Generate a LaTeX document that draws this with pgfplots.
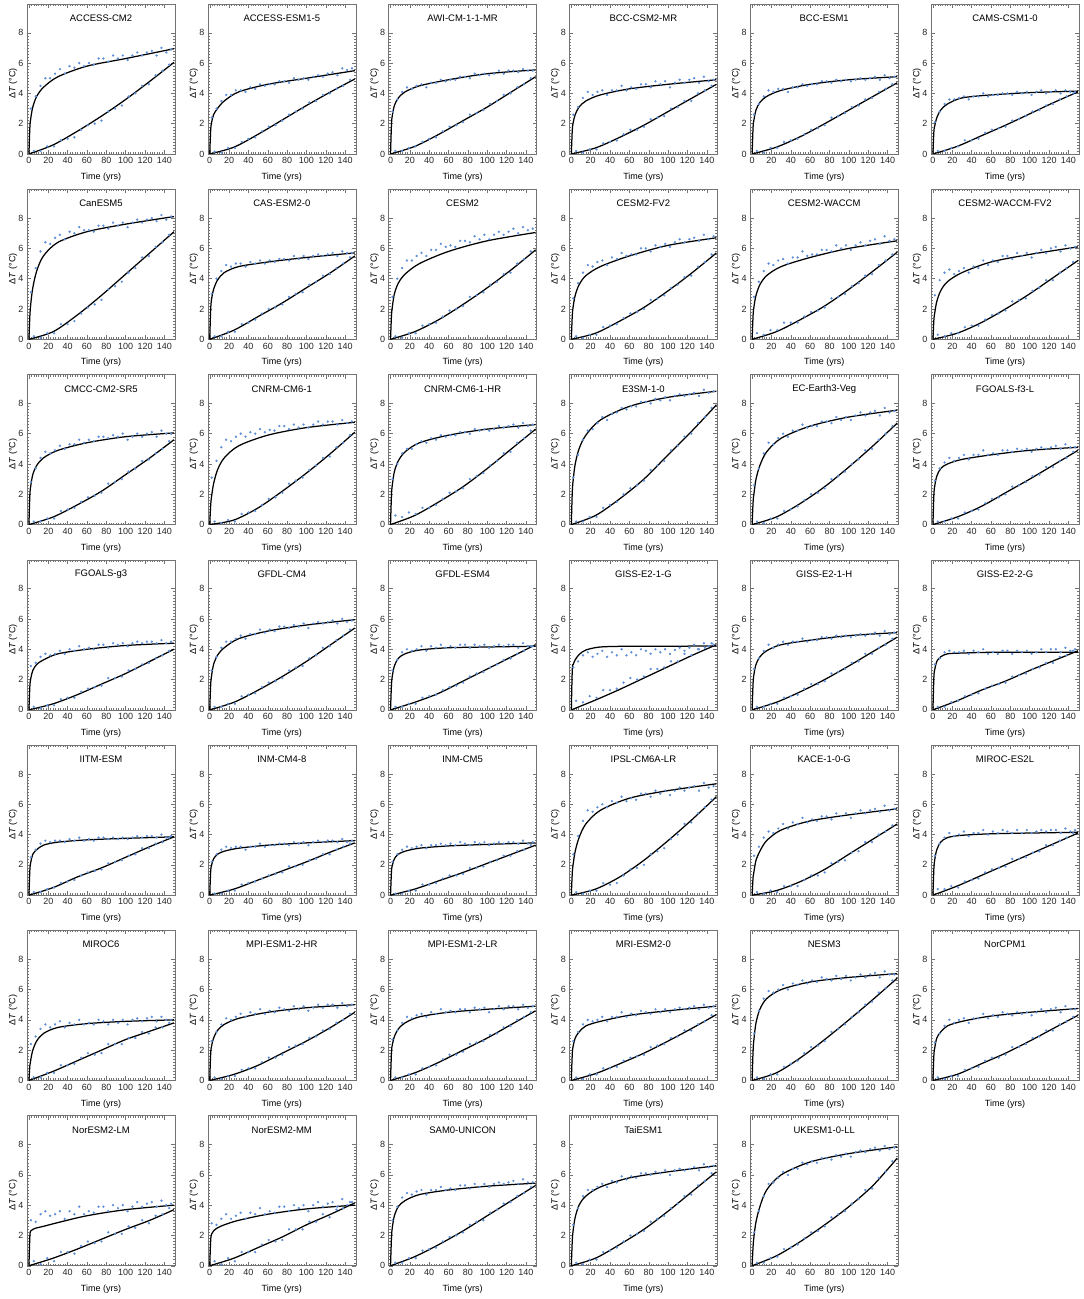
\documentclass[border=0pt]{standalone}
\usepackage{fontspec}
\setmainfont{Liberation Sans}
\usepackage{pgfplots}
\pgfplotsset{compat=1.18}
\usepgfplotslibrary{groupplots}
\definecolor{dotblue}{RGB}{92,142,215}
\pgfplotsset{
  scat/.style={only marks, mark=*, mark size=0.95pt, color=dotblue, mark options={draw=none, fill=dotblue}},
  fitc/.style={black, line width=1.25pt, smooth, tension=0.5, no marks},
}
\def\Ab#1,#2,#3,#4,#5,#6,#7,#8,#9;{\addplot[fitc] coordinates {(0,0)(1,#1)(2,#2)(4,#3)(8,#4)(15,#5)(30,#6)(60,#7)(100,#8)(150,#9)};}
\def\Pc#1,#2,#3,#4,#5,#6;{\addplot[fitc] coordinates {(0,0)(25,#1)(50,#2)(75,#3)(100,#4)(125,#5)(150,#6)};}
\newcommand\scat[3]{%
  \gdef\pts{}%
  \foreach \v [count=\i from 0] in {#3} {%
    \pgfmathsetmacro\xx{#1+#2*\i}%
    \xdef\pts{\pts(\xx,\v)}%
  }%
  \edef\tmp{\noexpand\addplot[scat] coordinates {\pts};}\tmp
}
\newcommand\Sa[1]{\scat{2}{5}{#1}}
\newcommand\Sp[1]{\scat{5}{7}{#1}}
\newcommand\fs{\fontsize{9}{11}\selectfont}
\newcommand\ft{\fontsize{9.5}{11}\selectfont}
\begin{document}
\begin{tikzpicture}
\begin{groupplot}[
  group style={group size=6 by 7, horizontal sep=32.8pt, vertical sep=35.3pt},
  scale only axis, width=148pt, height=150pt,
  xmin=-2, xmax=151, ymin=0, ymax=9.9,
  xtick={0,20,...,140}, ytick={0,2,4,6,8},
  minor x tick num=7, minor y tick num=9,
  tick align=inside,
  major tick length=4pt, minor tick length=2pt,
  tick style={black!55, line width=0.4pt},
  axis line style={black!55, line width=0.6pt},
  tick label style={font=\fs, text=black!85},
  /pgf/number format/assume math mode=true,
  title style={at={(0.5,0.905)}, anchor=center, yshift=-6pt, font=\ft},
  xlabel={Time (yrs)}, ylabel={Δ\textit{T} (°C)},
  xlabel style={at={(0.5,-0.155)}, anchor=center, font=\fs},
  ylabel style={at={(-0.095,0.47)}, anchor=center, font=\fs},
]
\nextgroupplot[title={ACCESS-CM2}]
\Sa{3.0,3.8,4.5,5.0,5.0,5.3,5.6,5.3,5.8,5.7,6.0,5.8,6.0,5.9,6.3,6.3,6.1,6.5,6.3,6.5,6.2,6.5,6.7,6.5,6.7,6.8,6.5,7.0,6.7,6.9}
\Sp{0.2,0.2,0.5,0.5,0.9,1.0,1.1,1.6,1.9,2.0,2.2,2.8,3.0,3.2,3.8,4.0,4.5,4.6,5.2,5.5,5.9}
\Ab 1.8,2.4,3.1,3.8,4.4,5.1,5.8,6.3,6.95;
\Pc 0.6,1.5,2.5,3.6,4.8,6.05;
\nextgroupplot[title={ACCESS-ESM1-5}]
\Sa{2.4,3.0,3.5,3.9,3.9,4.2,4.2,4.1,4.4,4.3,4.6,4.5,4.6,4.6,4.8,4.8,4.7,5.0,4.9,5.0,4.9,5.1,5.2,5.1,5.3,5.4,5.2,5.65,5.55,5.65}
\Sp{0.15,0.1,0.4,0.4,0.8,1.0,1.1,1.5,1.8,1.9,2.2,2.6,2.8,3.0,3.4,3.5,3.9,4.0,4.3,4.5,4.9}
\Ab 1.6,2.1,2.6,3.0,3.5,4.1,4.6,5.0,5.5;
\Pc 0.45,1.3,2.25,3.2,4.1,4.95;
\nextgroupplot[title={AWI-CM-1-1-MR}]
\Sa{2.8,3.6,4.1,4.4,4.3,4.5,4.6,4.4,4.7,4.7,4.9,4.8,4.9,4.9,5.1,5.1,5.0,5.3,5.2,5.3,5.2,5.3,5.5,5.3,5.5,5.5,5.4,5.6,5.5,5.5}
\Sp{0.2,0.2,0.4,0.5,0.8,1.0,1.1,1.5,1.8,1.9,2.1,2.6,2.7,2.9,3.3,3.5,3.9,4.0,4.4,4.6,5.0}
\Ab 2.0,2.6,3.2,3.7,4.1,4.5,4.9,5.3,5.55;
\Pc 0.5,1.3,2.2,3.1,4.1,5.1;
\nextgroupplot[title={BCC-CSM2-MR}]
\Sa{2.6,3.1,3.7,4.1,3.9,4.1,4.2,3.9,4.2,4.2,4.5,4.2,4.4,4.3,4.6,4.6,4.4,4.8,4.6,4.8,4.4,4.7,4.9,4.7,4.9,5.0,4.7,5.1,4.8,4.9}
\Sp{0.2,0.1,0.3,0.3,0.7,0.8,0.9,1.3,1.6,1.6,1.8,2.3,2.4,2.5,3.0,3.1,3.5,3.5,4.0,4.2,4.5}
\Ab 1.6,2.1,2.6,3.1,3.5,3.9,4.3,4.6,4.9;
\Pc 0.4,1.1,1.9,2.8,3.7,4.6;
\nextgroupplot[title={BCC-ESM1}]
\Sa{2.6,3.3,3.8,4.2,4.1,4.3,4.3,4.1,4.4,4.4,4.6,4.5,4.6,4.6,4.8,4.8,4.7,4.9,4.8,4.9,4.8,4.9,5.0,4.9,5.0,5.1,4.9,5.2,5.0,5.1}
\Sp{0.2,0.1,0.4,0.4,0.8,0.9,1.0,1.3,1.6,1.7,1.9,2.4,2.5,2.7,3.1,3.2,3.6,3.7,4.1,4.3,4.6}
\Ab 1.8,2.3,2.9,3.4,3.8,4.2,4.6,4.9,5.1;
\Pc 0.45,1.15,2.0,2.9,3.8,4.7;
\nextgroupplot[title={CAMS-CSM1-0}]
\Sa{2.1,2.8,3.3,3.6,3.6,3.7,3.8,3.6,3.8,3.8,4.0,3.8,3.9,3.9,4.0,4.0,3.9,4.1,4.0,4.1,3.9,4.1,4.2,4.0,4.1,4.2,4.0,4.2,4.1,4.1}
\Sp{0.2,0.2,0.4,0.5,0.9,0.9,1.0,1.4,1.6,1.7,1.8,2.2,2.3,2.5,2.8,2.9,3.2,3.3,3.6,3.8,4.0}
\Ab 1.5,1.9,2.4,2.9,3.3,3.7,3.9,4.05,4.15;
\Pc 0.5,1.2,1.9,2.65,3.4,4.1;
\nextgroupplot[title={CanESM5}]
\Sa{3.1,4.7,5.8,6.4,6.3,6.7,6.9,6.6,7.1,7.0,7.4,7.2,7.2,7.1,7.5,7.5,7.3,7.7,7.5,7.7,7.4,7.7,7.9,7.7,7.9,8.0,7.8,8.2,7.9,8.1}
\Sp{0.2,0.1,0.4,0.4,1.0,1.0,1.2,1.7,2.1,2.3,2.6,3.3,3.5,3.8,4.4,4.7,5.4,5.5,6.1,6.4,6.9}
\Ab 1.6,2.4,3.4,4.5,5.5,6.4,7.1,7.6,8.1;
\Pc 0.5,1.6,2.9,4.3,5.7,7.1;
\nextgroupplot[title={CAS-ESM2-0}]
\Sa{3.0,4.0,4.5,4.9,4.8,5.0,5.0,4.8,5.1,5.0,5.2,5.0,5.2,5.1,5.3,5.3,5.2,5.5,5.3,5.5,5.3,5.5,5.6,5.5,5.6,5.7,5.5,5.8,5.7,5.7}
\Sp{0.2,0.2,0.5,0.5,1.0,1.1,1.3,1.7,2.0,2.1,2.3,2.8,3.0,3.1,3.6,3.8,4.2,4.3,4.7,5.0,5.4}
\Ab 2.0,2.7,3.3,3.9,4.4,4.8,5.1,5.4,5.7;
\Pc 0.6,1.5,2.4,3.4,4.4,5.5;
\nextgroupplot[title={CESM2}]
\Sa{2.8,4.0,4.7,5.2,5.2,5.5,5.7,5.5,5.9,5.9,6.3,6.1,6.2,6.1,6.5,6.5,6.4,6.8,6.6,6.9,6.6,6.9,7.1,6.9,7.1,7.3,7.0,7.4,7.2,7.3}
\Sp{0.2,0.1,0.4,0.4,0.9,1.0,1.1,1.5,1.9,2.0,2.2,2.8,2.9,3.1,3.6,3.8,4.3,4.4,5.0,5.3,5.8}
\Ab 1.6,2.2,3.0,3.7,4.3,5.0,5.8,6.5,7.05;
\Pc 0.5,1.3,2.3,3.4,4.6,5.9;
\nextgroupplot[title={CESM2-FV2}]
\Sa{2.7,3.7,4.4,4.9,4.8,5.1,5.2,4.9,5.4,5.3,5.7,5.5,5.6,5.6,6.0,6.0,5.8,6.2,6.1,6.3,6.1,6.4,6.6,6.4,6.6,6.7,6.5,6.9,6.6,6.8}
\Sp{0.2,0.1,0.3,0.3,0.8,0.9,1.0,1.4,1.7,1.8,2.0,2.6,2.7,2.9,3.4,3.6,4.1,4.2,4.8,5.1,5.6}
\Ab 1.6,2.2,2.9,3.6,4.2,4.8,5.5,6.2,6.7;
\Pc 0.4,1.2,2.1,3.2,4.4,5.7;
\nextgroupplot[title={CESM2-WACCM}]
\Sa{2.8,3.8,4.5,5.0,4.9,5.2,5.3,5.0,5.4,5.4,5.8,5.5,5.6,5.6,5.9,5.9,5.8,6.2,6.0,6.2,5.9,6.2,6.4,6.2,6.5,6.6,6.3,6.8,6.5,6.6}
\Sp{0.4,0.3,0.6,0.6,1.1,1.1,1.1,1.5,1.8,1.9,2.1,2.7,2.8,3.0,3.5,3.7,4.2,4.3,4.9,5.2,5.6}
\Ab 1.6,2.2,2.9,3.6,4.2,4.8,5.4,6.0,6.5;
\Pc 0.5,1.3,2.2,3.3,4.5,5.75;
\nextgroupplot[title={CESM2-WACCM-FV2}]
\Sa{2.9,3.9,4.4,4.6,4.3,4.5,4.7,4.4,4.8,4.7,5.2,4.9,5.2,5.1,5.5,5.5,5.3,5.7,5.5,5.7,5.4,5.7,5.9,5.7,6.0,6.1,5.8,6.2,6.0,6.1}
\Sp{0.3,0.2,0.4,0.4,0.8,0.9,0.9,1.3,1.6,1.7,1.9,2.5,2.6,2.7,3.2,3.4,3.9,3.9,4.4,4.7,5.1}
\Ab 1.3,1.8,2.5,3.2,3.8,4.4,5.1,5.6,6.1;
\Pc 0.4,1.1,2.0,3.0,4.1,5.2;
\nextgroupplot[title={CMCC-CM2-SR5}]
\Sa{2.8,3.7,4.4,4.8,4.7,4.9,5.2,5.0,5.3,5.3,5.6,5.4,5.6,5.5,5.8,5.8,5.7,5.9,5.8,6.0,5.6,5.8,6.0,5.8,6.0,6.1,5.8,6.2,6.0,6.0}
\Sp{0.2,0.2,0.4,0.4,0.9,1.0,1.1,1.5,1.8,1.9,2.1,2.7,2.8,3.0,3.5,3.7,4.2,4.3,4.7,5.0,5.5}
\Ab 2.0,2.6,3.3,3.9,4.4,4.9,5.4,5.8,6.05;
\Pc 0.5,1.3,2.2,3.3,4.4,5.6;
\nextgroupplot[title={CNRM-CM6-1}]
\Sa{3.1,4.2,5.1,5.6,5.5,5.8,6.0,5.8,6.1,6.0,6.3,6.1,6.25,6.2,6.5,6.5,6.3,6.6,6.4,6.6,6.4,6.6,6.8,6.6,6.8,6.8,6.6,6.9,6.7,6.8}
\Sp{0.2,0.1,0.3,0.2,0.7,0.8,0.9,1.3,1.7,1.8,2.1,2.7,2.9,3.1,3.6,3.9,4.4,4.5,5.1,5.4,5.9}
\Ab 1.3,1.9,2.7,3.6,4.4,5.2,5.9,6.4,6.75;
\Pc 0.3,1.1,2.2,3.4,4.7,6.1;
\nextgroupplot[title={CNRM-CM6-1-HR}]
\Sa{3.0,4.0,4.7,5.0,5.0,5.3,5.5,5.4,5.7,5.6,5.9,5.8,5.9,5.9,6.1,6.1,6.0,6.3,6.2,6.3,6.2,6.3,6.5,6.4,6.5,6.6,6.4,6.7,6.5,6.6}
\Sp{0.6,0.5,0.8,0.7,1.1,1.1,1.3,1.7,2.1,2.2,2.4,3.0,3.2,3.4,3.9,4.2,4.7,4.8,5.4,5.7,6.2}
\Ab 2.0,2.7,3.5,4.2,4.8,5.4,5.9,6.3,6.6;
\Pc 0.6,1.5,2.5,3.7,5.0,6.3;
\nextgroupplot[title={E3SM-1-0}]
\Sa{3.1,4.6,5.6,6.2,6.3,6.7,7.1,6.9,7.3,7.4,7.7,7.6,7.8,7.8,8.1,8.1,8.0,8.3,8.2,8.4,8.2,8.5,8.6,8.5,8.6,8.7,8.5,8.9,8.7,8.8}
\Sp{0.2,0.2,0.5,0.5,1.1,1.3,1.5,2.0,2.4,2.6,2.9,3.6,3.9,4.2,4.9,5.2,5.8,6.0,6.7,7.1,7.7}
\Ab 2.2,3.0,4.0,5.0,5.9,6.9,7.8,8.4,8.8;
\Pc 0.6,1.7,3.0,4.6,6.2,7.9;
\nextgroupplot[title={EC-Earth3-Veg}]
\Sa{2.6,3.7,4.7,5.4,5.3,5.7,6.0,5.8,6.2,6.2,6.6,6.4,6.5,6.5,6.8,6.8,6.7,7.1,6.9,7.1,6.9,7.2,7.4,7.2,7.4,7.5,7.2,7.7,7.4,7.5}
\Sp{0.2,0.1,0.4,0.4,0.9,1.0,1.2,1.6,2.0,2.1,2.4,3.0,3.2,3.5,4.0,4.3,4.9,5.0,5.6,6.0,6.5}
\Ab 1.5,2.1,3.0,3.9,4.8,5.7,6.5,7.1,7.55;
\Pc 0.5,1.4,2.5,3.8,5.2,6.7;
\nextgroupplot[title={FGOALS-f3-L}]
\Sa{2.9,3.7,4.1,4.4,4.2,4.4,4.6,4.3,4.6,4.6,4.9,4.6,4.7,4.6,4.9,4.9,4.8,5.0,4.9,5.0,4.8,5.0,5.1,5.0,5.1,5.2,5.0,5.3,5.1,5.1}
\Sp{0.2,0.2,0.4,0.4,0.8,0.9,1.0,1.4,1.7,1.8,2.0,2.5,2.6,2.8,3.2,3.3,3.8,3.8,4.2,4.4,4.8}
\Ab 2.0,2.6,3.2,3.7,4.0,4.3,4.6,4.9,5.1;
\Pc 0.5,1.2,2.1,3.0,3.95,4.9;
\nextgroupplot[title={FGOALS-g3}]
\Sa{2.9,3.1,3.5,3.7,3.6,3.7,3.9,3.7,4.0,3.9,4.2,4.0,4.1,4.0,4.3,4.3,4.1,4.4,4.3,4.4,4.2,4.4,4.5,4.4,4.5,4.5,4.4,4.6,4.4,4.5}
\Sp{0.2,0.1,0.3,0.3,0.7,0.8,0.8,1.2,1.4,1.5,1.6,2.1,2.1,2.2,2.6,2.7,3.0,3.1,3.4,3.6,3.9}
\Ab 1.6,2.1,2.6,3.0,3.3,3.7,4.0,4.25,4.4;
\Pc 0.4,1.0,1.7,2.4,3.2,4.0;
\nextgroupplot[title={GFDL-CM4}]
\Sa{2.6,3.5,4.1,4.5,4.5,4.7,4.9,4.7,5.0,5.0,5.3,5.1,5.3,5.2,5.5,5.5,5.4,5.6,5.5,5.7,5.4,5.7,5.8,5.7,5.8,5.9,5.7,6.0,5.8,5.9}
\Sp{0.2,0.2,0.4,0.4,0.9,1.0,1.1,1.5,1.8,1.9,2.1,2.6,2.8,2.9,3.4,3.6,4.1,4.2,4.6,4.9,5.3}
\Ab 1.7,2.3,3.0,3.6,4.1,4.7,5.2,5.6,5.95;
\Pc 0.5,1.3,2.2,3.2,4.3,5.4;
\nextgroupplot[title={GFDL-ESM4}]
\Sa{2.6,3.3,3.8,4.0,3.9,4.0,4.2,3.9,4.2,4.1,4.3,4.1,4.2,4.1,4.3,4.3,4.1,4.3,4.2,4.3,4.1,4.2,4.3,4.2,4.3,4.3,4.1,4.4,4.2,4.2}
\Sp{0.2,0.2,0.4,0.4,0.8,0.9,1.0,1.3,1.5,1.6,1.8,2.2,2.4,2.5,2.8,3.0,3.3,3.4,3.7,3.9,4.2}
\Ab 1.7,2.3,2.9,3.4,3.7,3.95,4.1,4.15,4.2;
\Pc 0.5,1.1,1.9,2.7,3.5,4.3;
\nextgroupplot[title={GISS-E2-1-G}]
\Sa{2.8,3.2,3.6,3.8,3.5,3.7,3.9,3.5,3.8,3.6,4.0,3.6,3.8,3.6,4.0,3.9,3.7,4.0,3.8,4.0,3.7,3.95,4.1,3.9,4.1,4.3,4.0,4.4,4.2,4.3}
\Sp{0.6,0.5,0.9,0.8,1.3,1.3,1.4,1.8,2.1,2.0,2.2,2.7,2.7,2.8,3.2,3.2,3.7,3.6,4.0,4.1,4.4}
\Ab 2.7,3.0,3.3,3.65,3.95,4.15,4.2,4.2,4.22;
\Pc 0.65,1.35,2.1,2.85,3.6,4.3;
\nextgroupplot[title={GISS-E2-1-H}]
\Sa{2.7,3.4,3.9,4.3,4.1,4.3,4.5,4.3,4.5,4.5,4.7,4.5,4.6,4.6,4.8,4.8,4.7,4.9,4.8,4.9,4.8,4.9,5.0,4.9,5.0,5.1,4.9,5.2,5.0,5.1}
\Sp{0.2,0.2,0.4,0.4,0.8,0.9,1.0,1.4,1.7,1.7,1.9,2.4,2.5,2.7,3.1,3.2,3.7,3.7,4.1,4.3,4.7}
\Ab 1.8,2.4,3.0,3.5,3.9,4.3,4.6,4.9,5.1;
\Pc 0.5,1.2,2.0,2.9,3.85,4.8;
\nextgroupplot[title={GISS-E2-2-G}]
\Sa{3.0,3.4,3.8,3.9,3.8,3.8,3.9,3.7,3.9,3.8,4.0,3.7,3.8,3.7,3.9,3.9,3.7,3.9,3.8,3.9,3.7,3.8,4.0,3.8,4.0,4.0,3.8,4.1,3.9,4.0}
\Sp{0.2,0.2,0.5,0.6,0.9,1.0,1.1,1.4,1.6,1.7,1.8,2.2,2.3,2.4,2.7,2.8,3.1,3.1,3.5,3.6,3.9}
\Ab 2.2,2.7,3.2,3.5,3.7,3.75,3.8,3.8,3.8;
\Pc 0.6,1.3,1.9,2.6,3.25,3.9;
\nextgroupplot[title={IITM-ESM}]
\Sa{2.5,3.0,3.4,3.6,3.5,3.6,3.6,3.5,3.7,3.6,3.8,3.6,3.7,3.6,3.8,3.8,3.7,3.8,3.7,3.8,3.7,3.8,3.9,3.8,3.9,3.9,3.8,4.0,3.8,3.9}
\Sp{0.2,0.2,0.4,0.5,0.8,0.9,1.0,1.3,1.5,1.6,1.7,2.1,2.2,2.3,2.6,2.7,3.1,3.1,3.4,3.5,3.8}
\Ab 1.7,2.2,2.7,3.0,3.3,3.5,3.65,3.75,3.85;
\Pc 0.5,1.2,1.8,2.5,3.2,3.85;
\nextgroupplot[title={INM-CM4-8}]
\Sa{2.2,2.7,3.0,3.2,3.1,3.2,3.2,3.0,3.2,3.2,3.4,3.2,3.3,3.3,3.4,3.4,3.3,3.5,3.4,3.5,3.3,3.5,3.6,3.5,3.6,3.6,3.5,3.7,3.5,3.6}
\Sp{0.1,0.1,0.3,0.3,0.7,0.8,0.9,1.1,1.3,1.4,1.5,1.9,1.9,2.0,2.3,2.4,2.7,2.7,3.0,3.2,3.4}
\Ab 1.6,2.0,2.4,2.7,2.9,3.1,3.3,3.45,3.6;
\Pc 0.4,1.0,1.6,2.2,2.85,3.45;
\nextgroupplot[title={INM-CM5}]
\Sa{2.2,2.7,3.0,3.2,3.1,3.2,3.3,3.1,3.3,3.3,3.4,3.3,3.4,3.3,3.5,3.4,3.3,3.5,3.4,3.5,3.3,3.4,3.5,3.4,3.5,3.5,3.4,3.6,3.4,3.5}
\Sp{0.1,0.1,0.3,0.3,0.7,0.7,0.8,1.1,1.3,1.3,1.4,1.8,1.8,1.9,2.2,2.3,2.6,2.6,2.9,3.0,3.3}
\Ab 1.6,2.0,2.4,2.7,2.9,3.1,3.25,3.35,3.45;
\Pc 0.4,0.95,1.5,2.1,2.7,3.3;
\nextgroupplot[title={IPSL-CM6A-LR}]
\Sa{2.7,3.9,4.9,5.6,5.5,5.8,6.0,5.8,6.2,6.1,6.5,6.2,6.4,6.3,6.7,6.7,6.5,6.9,6.7,6.9,6.6,6.9,7.1,6.9,7.1,7.2,6.9,7.4,7.1,7.2}
\Sp{0.2,0.1,0.3,0.3,0.8,0.7,0.8,1.3,1.7,1.8,2.0,2.7,2.9,3.1,3.7,4.0,4.7,4.8,5.4,5.8,6.3}
\Ab 1.5,2.1,2.9,3.8,4.7,5.6,6.4,6.9,7.35;
\Pc 0.4,1.2,2.3,3.6,5.0,6.5;
\nextgroupplot[title={KACE-1-0-G}]
\Sa{2.6,3.2,3.8,4.2,4.1,4.4,4.7,4.4,4.8,4.7,5.1,4.8,5.0,4.9,5.2,5.2,5.0,5.4,5.2,5.4,5.1,5.4,5.6,5.4,5.6,5.7,5.5,5.9,5.6,5.7}
\Sp{0.2,0.1,0.3,0.2,0.6,0.6,0.6,1.0,1.3,1.3,1.5,2.1,2.2,2.3,2.8,2.9,3.5,3.5,4.0,4.2,4.6}
\Ab 1.2,1.6,2.3,2.9,3.6,4.3,4.9,5.3,5.7;
\Pc 0.3,0.9,1.7,2.7,3.7,4.7;
\nextgroupplot[title={MIROC-ES2L}]
\Sa{2.6,3.4,3.8,4.1,3.9,4.0,4.2,3.9,4.1,4.1,4.3,4.0,4.2,4.1,4.3,4.2,4.1,4.3,4.1,4.3,4.1,4.2,4.3,4.2,4.3,4.3,4.1,4.4,4.2,4.3}
\Sp{0.4,0.4,0.6,0.5,0.9,1.0,1.1,1.5,1.7,1.8,1.9,2.4,2.4,2.5,2.8,2.9,3.3,3.3,3.6,3.8,4.1}
\Ab 1.8,2.4,3.0,3.5,3.8,3.95,4.05,4.1,4.15;
\Pc 0.6,1.3,2.0,2.7,3.4,4.1;
\nextgroupplot[title={MIROC6}]
\Sa{2.4,2.9,3.4,3.7,3.5,3.7,3.9,3.5,3.8,3.7,4.0,3.7,3.8,3.7,4.0,3.9,3.7,4.0,3.8,4.0,3.7,4.0,4.1,3.9,4.1,4.2,3.9,4.2,4.0,4.0}
\Sp{0.2,0.2,0.5,0.5,1.0,1.0,1.1,1.5,1.8,1.7,1.8,2.4,2.4,2.4,2.8,2.8,3.2,3.1,3.5,3.5,3.8}
\Ab 1.0,1.4,2.0,2.6,3.1,3.5,3.75,3.9,4.0;
\Pc 0.6,1.3,2.0,2.7,3.25,3.8;
\nextgroupplot[title={MPI-ESM1-2-HR}]
\Sa{2.6,3.2,3.7,4.1,4.0,4.2,4.4,4.2,4.5,4.4,4.7,4.4,4.6,4.5,4.8,4.7,4.6,4.9,4.7,4.9,4.6,4.8,5.0,4.8,5.0,5.0,4.8,5.1,4.9,5.0}
\Sp{0.2,0.1,0.3,0.3,0.7,0.8,0.8,1.2,1.5,1.5,1.7,2.2,2.3,2.4,2.8,2.9,3.3,3.4,3.8,4.0,4.4}
\Ab 1.8,2.3,2.8,3.3,3.7,4.1,4.5,4.8,5.0;
\Pc 0.4,1.0,1.8,2.6,3.5,4.5;
\nextgroupplot[title={MPI-ESM1-2-LR}]
\Sa{2.7,3.3,3.8,4.2,4.1,4.3,4.4,4.2,4.5,4.4,4.7,4.5,4.6,4.5,4.7,4.7,4.5,4.8,4.7,4.8,4.5,4.7,4.9,4.7,4.9,4.9,4.7,5.0,4.8,4.9}
\Sp{0.2,0.2,0.4,0.4,0.8,0.9,1.0,1.4,1.7,1.7,1.9,2.4,2.5,2.6,3.0,3.1,3.5,3.6,4.0,4.2,4.5}
\Ab 1.9,2.4,2.9,3.4,3.8,4.2,4.5,4.7,4.9;
\Pc 0.5,1.2,2.0,2.8,3.7,4.6;
\nextgroupplot[title={MRI-ESM2-0}]
\Sa{2.6,3.2,3.7,4.0,3.9,4.0,4.2,3.9,4.2,4.2,4.5,4.2,4.4,4.3,4.6,4.5,4.4,4.7,4.5,4.7,4.5,4.7,4.8,4.7,4.8,4.9,4.7,5.0,4.8,4.9}
\Sp{0.2,0.1,0.4,0.4,0.8,0.8,0.9,1.3,1.5,1.6,1.7,2.2,2.3,2.4,2.8,2.9,3.3,3.3,3.7,3.9,4.3}
\Ab 1.8,2.3,2.8,3.2,3.6,3.9,4.3,4.6,4.9;
\Pc 0.45,1.1,1.8,2.6,3.45,4.35;
\nextgroupplot[title={NESM3}]
\Sa{3.1,4.6,5.4,5.9,5.8,6.0,6.3,6.0,6.4,6.3,6.6,6.4,6.6,6.5,6.8,6.7,6.6,6.9,6.7,6.9,6.6,6.8,7.0,6.8,7.0,7.1,6.8,7.2,7.0,7.0}
\Sp{0.2,0.1,0.4,0.4,0.9,1.1,1.3,1.8,2.2,2.3,2.6,3.2,3.4,3.7,4.2,4.5,5.0,5.2,5.8,6.1,6.6}
\Ab 2.0,2.8,3.8,4.7,5.4,6.0,6.5,6.8,7.05;
\Pc 0.5,1.5,2.7,4.0,5.35,6.75;
\nextgroupplot[title={NorCPM1}]
\Sa{2.5,3.1,3.6,4.0,3.8,4.0,4.1,3.8,4.1,4.1,4.4,4.1,4.3,4.2,4.5,4.4,4.3,4.5,4.4,4.5,4.3,4.5,4.7,4.5,4.7,4.8,4.5,4.9,4.7,4.7}
\Sp{0.2,0.1,0.3,0.3,0.7,0.8,0.9,1.3,1.5,1.5,1.7,2.2,2.2,2.4,2.8,2.9,3.3,3.3,3.7,3.9,4.2}
\Ab 1.7,2.2,2.8,3.2,3.6,3.9,4.25,4.5,4.75;
\Pc 0.4,1.1,1.8,2.6,3.45,4.3;
\nextgroupplot[title={NorESM2-LM}]
\Sa{3.0,2.9,3.4,3.6,3.3,3.4,3.6,3.1,3.6,3.4,3.9,3.4,3.6,3.5,3.9,3.9,3.6,4.0,3.8,4.0,3.6,3.9,4.2,3.9,4.1,4.2,3.9,4.3,4.0,4.1}
\Sp{0.3,0.1,0.5,0.3,0.9,0.9,0.8,1.3,1.6,1.5,1.6,2.2,2.1,2.1,2.6,2.5,3.0,2.8,3.3,3.4,3.8}
\Ab 2.0,2.3,2.4,2.5,2.6,2.85,3.3,3.7,4.0;
\Pc 0.5,1.1,1.75,2.4,3.0,3.7;
\nextgroupplot[title={NorESM2-MM}]
\Sa{2.8,2.7,3.1,3.4,3.1,3.3,3.5,3.1,3.5,3.4,3.8,3.4,3.6,3.5,3.9,3.9,3.6,4.0,3.8,4.0,3.6,4.0,4.2,3.9,4.1,4.2,3.9,4.4,4.0,4.2}
\Sp{0.3,0.1,0.5,0.3,0.9,0.9,0.9,1.4,1.7,1.6,1.7,2.4,2.4,2.4,2.9,2.9,3.4,3.2,3.7,3.8,4.2}
\Ab 1.7,2.1,2.3,2.5,2.7,3.0,3.4,3.75,4.0;
\Pc 0.5,1.2,1.9,2.7,3.4,4.15;
\nextgroupplot[title={SAM0-UNICON}]
\Sa{3.0,3.9,4.5,4.8,4.7,4.9,5.0,4.7,5.0,5.0,5.2,5.0,5.1,5.0,5.3,5.3,5.1,5.4,5.2,5.4,5.2,5.4,5.5,5.4,5.5,5.6,5.4,5.7,5.5,5.5}
\Sp{0.2,0.2,0.5,0.5,1.0,1.1,1.2,1.6,1.9,2.0,2.2,2.7,2.9,3.0,3.5,3.7,4.1,4.2,4.6,4.8,5.2}
\Ab 1.9,2.6,3.3,3.9,4.3,4.7,5.0,5.25,5.45;
\Pc 0.6,1.4,2.3,3.3,4.3,5.3;
\nextgroupplot[title={TaiESM1}]
\Sa{2.7,3.8,4.6,5.0,5.0,5.2,5.4,5.2,5.6,5.5,5.9,5.7,5.9,5.8,6.1,6.1,6.0,6.2,6.1,6.3,6.0,6.3,6.4,6.3,6.4,6.5,6.3,6.7,6.5,6.6}
\Sp{0.2,0.1,0.4,0.4,0.9,1.0,1.2,1.6,2.0,2.1,2.3,2.9,3.1,3.3,3.8,4.1,4.6,4.7,5.3,5.6,6.1}
\Ab 1.7,2.4,3.2,4.0,4.6,5.2,5.8,6.2,6.6;
\Pc 0.5,1.4,2.4,3.6,4.9,6.2;
\nextgroupplot[title={UKESM1-0-LL}]
\Sa{2.2,3.6,4.6,5.4,5.5,5.8,6.2,6.0,6.4,6.4,6.8,6.7,6.9,6.8,7.1,7.1,7.0,7.3,7.2,7.4,7.2,7.5,7.6,7.5,7.7,7.8,7.6,7.9,7.7,7.8}
\Sp{0.2,0.2,0.5,0.6,1.1,1.2,1.4,1.8,2.2,2.3,2.6,3.2,3.4,3.6,4.1,4.4,5.0,5.1,5.8,6.2,6.9}
\Ab 1.3,2.0,2.9,3.9,5.0,6.0,6.85,7.4,7.85;
\Pc 0.65,1.6,2.7,3.9,5.3,7.1;
\end{groupplot}
\pgfresetboundingbox
\path (group c1r1.north west) ++(-27pt,4pt) rectangle ++(1084pt,-1299pt);
\end{tikzpicture}
\end{document}
